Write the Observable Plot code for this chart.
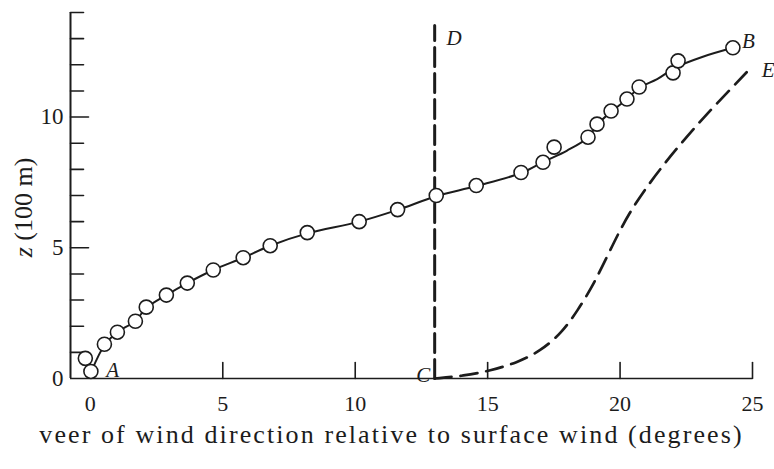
<!DOCTYPE html>
<html>
<head>
<meta charset="utf-8">
<script src="https://cdn.jsdelivr.net/npm/d3@7"></script>
<script src="https://cdn.jsdelivr.net/npm/@observablehq/plot@0.6"></script>
<style>
  html, body { margin: 0; padding: 0; background: #fff; }
  #chart { width: 774px; height: 469px; }
</style>
</head>
<body>
<div id="chart"></div>
<script>
// Observed points (circles): veer (deg) vs height z (100 m)
const circleX = [-0.19, 0.02, 0.53, 1.02, 1.70, 2.11, 2.87, 3.66, 4.64, 5.77, 6.79, 8.19, 10.15, 11.60, 13.06, 14.57, 16.26, 17.09, 17.51, 18.79, 19.13, 19.66, 20.26, 20.72, 22.00, 22.19, 24.26];
const circleZ = [0.77, 0.27, 1.31, 1.77, 2.19, 2.73, 3.19, 3.65, 4.15, 4.62, 5.08, 5.58, 6.00, 6.46, 7.00, 7.38, 7.88, 8.27, 8.85, 9.23, 9.73, 10.23, 10.69, 11.15, 11.69, 12.15, 12.65];

// Smooth curve A–B drawn through the observations
const lineX = [0.05, 0.55, 1.02, 1.70, 2.11, 2.87, 3.66, 4.64, 5.77, 6.79, 8.19, 10.15, 11.60, 13.03, 14.57, 16.26, 17.09, 18.00, 18.79, 19.13, 19.66, 20.26, 20.72, 21.40, 22.10, 23.10, 24.26];
const lineZ = [0.30, 1.30, 1.77, 2.20, 2.70, 3.19, 3.65, 4.15, 4.62, 5.08, 5.55, 6.00, 6.45, 6.96, 7.36, 7.86, 8.28, 8.72, 9.22, 9.70, 10.20, 10.68, 11.12, 11.45, 11.90, 12.30, 12.65];

// Dashed vertical line C–D
const cdX = [13, 13];
const cdZ = [0, 13.5];

// Dashed curve C–E
const ceX = [13.0, 14.1, 15.1, 16.1, 17.0, 17.8, 18.4, 19.0, 19.6, 20.3, 21.3, 22.3, 23.3, 24.3, 25.0];
const ceZ = [0.0, 0.1, 0.3, 0.6, 1.05, 1.75, 2.6, 3.6, 4.85, 6.3, 7.75, 9.0, 10.15, 11.2, 11.95];

// Point labels
const labelText = ["A", "B", "C", "D", "E"];
const labelX = [0.6, 24.6, 12.3, 13.45, 25.35];
const labelZ = [0.33, 12.9, 0.12, 13.0, 11.8];

// Axis ticks
const xTickValues = [5, 10, 15, 20, 25];
const xTickLabels = [0, 5, 10, 15, 20, 25];
const yMinorTicks = [1, 2, 3, 4, 6, 7, 8, 9, 11, 12, 13, 14];
const yMajorTicks = [5, 10];
const yTickLabels = [0, 5, 10];

const xTitle = "veer of wind direction relative to surface wind (degrees)";
const yTitle = "z (100 m)";

const xMin = -0.75, xMax = 25, zMin = 0, zMax = 14;
const ink = "#1c1c1c";
const serif = "'Liberation Serif', 'DejaVu Serif', serif";

const circles = circleX.map((x, i) => ({x, z: circleZ[i]}));
const line = lineX.map((x, i) => ({x, z: lineZ[i]}));
const cd = cdX.map((x, i) => ({x, z: cdZ[i]}));
const ce = ceX.map((x, i) => ({x, z: ceZ[i]}));
const labels = labelText.map((t, i) => ({t, x: labelX[i], z: labelZ[i]}));

// a plain straight tick shape for Plot.vector
const tickShape = {draw(context, l) { context.moveTo(0, 0); context.lineTo(0, -l); }};

const chart = Plot.plot({
  width: 774,
  height: 469,
  marginLeft: 70,
  marginRight: 22,
  marginTop: 12,
  marginBottom: 91,
  style: {fontFamily: serif, background: "#fff", color: ink},
  x: {domain: [xMin, xMax], axis: null},
  y: {domain: [zMin, zMax], axis: null},
  marks: [
    // axis lines
    Plot.ruleX([xMin], {stroke: ink, strokeWidth: 2}),
    Plot.ruleY([zMin], {stroke: ink, strokeWidth: 1.6}),
    // inward ticks
    Plot.vector(yMinorTicks, {x: () => xMin, y: d => d, length: 13, rotate: 90, anchor: "start", shape: tickShape, stroke: ink, strokeWidth: 1.6}),
    Plot.vector(yMajorTicks, {x: () => xMin, y: d => d, length: 18, rotate: 90, anchor: "start", shape: tickShape, stroke: ink, strokeWidth: 1.6}),
    Plot.vector(xTickValues, {x: d => d, y: () => zMin, length: 16, rotate: 0, anchor: "start", shape: tickShape, stroke: ink, strokeWidth: 1.6}),
    // tick labels
    Plot.text(yTickLabels, {x: () => xMin, y: d => d, text: d => String(d), dx: -7, textAnchor: "end", fontSize: 23, fill: ink}),
    Plot.text(xTickLabels, {x: d => d, y: () => zMin, text: d => String(d), dy: 25, fontSize: 22, fill: ink}),
    // dashed lines
    Plot.line(cd, {x: "x", y: "z", stroke: ink, strokeWidth: 3, strokeDasharray: "19,7"}),
    Plot.line(ce, {x: "x", y: "z", stroke: ink, strokeWidth: 2.7, curve: "basis", strokeDasharray: "17,9"}),
    // main curve and circles
    Plot.line(line, {x: "x", y: "z", stroke: ink, strokeWidth: 2, curve: "catmull-rom"}),
    Plot.dot(circles, {x: "x", y: "z", r: 7, stroke: ink, strokeWidth: 1.6, fill: "#fff"}),
    // point labels
    Plot.text(labels, {x: "x", y: "z", text: "t", fontSize: 21, fontStyle: "italic", fill: ink, textAnchor: "start"}),
    // titles
    Plot.text([xTitle], {frameAnchor: "bottom", textAnchor: "middle", dx: -20, dy: 64, fontSize: 26, fill: ink}),
    Plot.text([yTitle], {frameAnchor: "left", textAnchor: "middle", dx: -47, dy: 12, rotate: -90, fontSize: 26, fill: ink})
  ]
});

// italic "z" in the y title; letter spacing of the x title
d3.select(chart).selectAll("text").each(function() {
  const el = d3.select(this);
  if (el.text() === yTitle) {
    el.text(null);
    el.append("tspan").attr("font-style", "italic").text("z");
    el.append("tspan").text(" (100 m)");
  } else if (el.text() === xTitle) {
    el.attr("letter-spacing", "2.1px");
  }
});

document.getElementById("chart").appendChild(chart);
</script>
</body>
</html>
